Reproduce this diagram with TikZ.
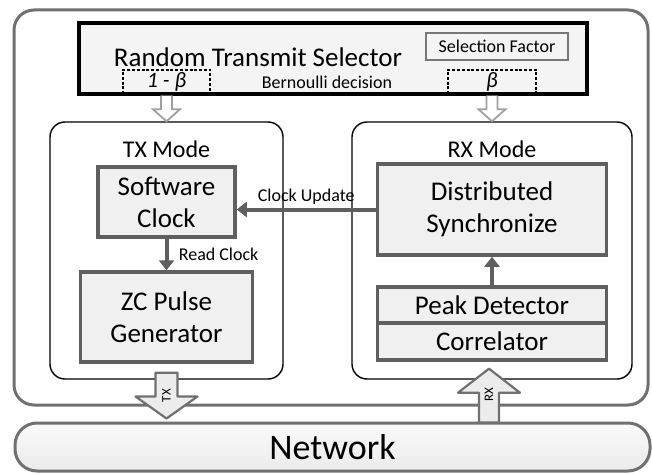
\documentclass[tikz,border=0pt]{standalone}
\usepackage{fontspec}
\setmainfont{Carlito}
\usetikzlibrary{arrows.meta,positioning,calc}
\definecolor{linegray}{RGB}{95,95,95}
\definecolor{framegray}{RGB}{112,112,112}
\definecolor{hollowgray}{RGB}{160,160,160}
\definecolor{boxfill}{RGB}{240,240,240}
\definecolor{selfill}{RGB}{244,244,245}

\begin{document}
\begin{tikzpicture}[
 x=1pt, y=-1pt,
 block/.style={rectangle, draw=linegray, line width=3.5pt, fill=boxfill, align=center, inner sep=0pt, font=\fontsize{27}{32}\selectfont},
 modebox/.style={rectangle, rounded corners=15pt, draw=black, line width=1.4pt, fill=white},
 title/.style={font=\fontsize{24}{28}\selectfont},
 small/.style={font=\fontsize{18}{21}\selectfont},
 prob/.style={inner sep=0pt, minimum width=87pt, minimum height=24pt, font=\fontsize{22}{24}\selectfont\itshape},
 dashbox/.style={line width=2pt, dash pattern=on 3pt off 1.8pt},
 arrow/.style={-{Triangle[length=10pt,width=15pt]}, line width=4pt, color=linegray},
 hollow/.style={draw=hollowgray, line width=1.8pt, fill=white},
 ioarrow/.style={draw=framegray, line width=2.2pt, fill=gray!15, line join=round},
 tag/.style={rotate=90, inner sep=0pt, font=\fontsize{13}{15}\selectfont}
]
\useasboundingbox (0,0) rectangle (652,473);

% Outer frame and network
\node[draw=framegray, line width=3pt, rounded corners=20pt, minimum width=634pt, minimum height=395pt, inner sep=0pt] (frame) at (331,207.5) {};
\node[draw=framegray, line width=3pt, rounded corners=22pt, top color=gray!4, bottom color=gray!16, minimum width=635pt, minimum height=48pt, inner sep=0pt, font=\fontsize{36}{40}\selectfont] (network) at (332.5,447) {Network};

% Selector
\node[draw=black, line width=3.2pt, fill=selfill, minimum width=508pt, minimum height=71pt, inner sep=0pt] (selector) at (333,58.5) {};
\node[font=\fontsize{27}{32}\selectfont] (seltitle) at (258,57) {Random Transmit Selector};
\node[draw=linegray!85, line width=2pt, minimum width=142pt, minimum height=27pt, inner sep=0pt, small] (factor) at (497,46.5) {Selection Factor};
\node[prob] (txprob) at (166.5,82) {1 - β};
\node[prob, minimum width=88pt] (rxprob) at (492,82) {β};
\node[small] (bern) at (327,82) {Bernoulli decision};
\draw[dashbox] (txprob.south west) -- (txprob.north west) -- (txprob.north east) -- (txprob.south east);
\draw[dashbox] (rxprob.south west) -- (rxprob.north west) -- (rxprob.north east) -- (rxprob.south east);

% Modes
\node[modebox, minimum width=233pt, minimum height=257pt] (txmode) at (166.5,250.5) {};
\node[modebox, minimum width=280pt, minimum height=257pt] (rxmode) at (492,250.5) {};
\node[title] (txlabel) at (166.5,149) {TX Mode};
\node[title] (rxlabel) at (492,149) {RX Mode};

% Blocks
\node[block, minimum width=137pt, minimum height=70pt] (swclock) at (166.5,202) {Software\\Clock};
\node[block, minimum width=172pt, minimum height=90pt] (zcgen) at (166.5,317) {ZC Pulse\\Generator};
\node[block, minimum width=229pt, minimum height=91pt] (distsync) at (492,209.5) {Distributed\\Synchronize};
\node[block, minimum width=229pt, minimum height=36pt] (peak) at (492,305) {Peak Detector};
\node[block, minimum width=229pt, minimum height=37pt, below=-3.5pt of peak] (corr) {Correlator};

% Arrows
\draw[arrow] (swclock) -- node[right=7pt, small, text=black] {Read Clock} (zcgen);
\draw[arrow] (distsync.west) -- node[above, small, text=black] {Clock Update} (swclock.east |- distsync.west);
\draw[arrow] (peak) -- (distsync);

% Bernoulli outputs
\draw[hollow] ($(txprob.south)+(-5.5,1.5)$) -- ($(txmode.north)+(-5.5,-12)$) -- ++(-8,0) -- (txmode.north) -- ++(13.5,-12) -- ++(-8,0) -- ($(txprob.south)+(5.5,1.5)$);
\draw[hollow] ($(rxprob.south)+(-5.5,1.5)$) -- ($(rxmode.north)+(-5.5,-12)$) -- ++(-8,0) -- (rxmode.north) -- ++(13.5,-12) -- ++(-8,0) -- ($(rxprob.south)+(5.5,1.5)$);

% TX / RX to network
\coordinate (txtop) at ($(txmode.south)+(0,-7)$);
\coordinate (txtip) at ($(txmode.south |- network.north)+(0,-3)$);
\draw[ioarrow] ($(txtop)+(-11,0)$) -- ($(txtip)+(-11,-22)$) -- ++(-20,0) -- (txtip) -- ++(31,-22) -- ++(-20,0) -- ($(txtop)+(11,0)$) -- cycle;
\node[tag] (txtag) at ($(txtop)+(0,23)$) {TX};

\coordinate (rxtip) at ($(rxmode.south)+(-3,-11)$);
\coordinate (rxbot) at ($(rxtip |- network.north)+(0,1)$);
\draw[ioarrow] ($(rxbot)+(-10,0)$) -- ($(rxtip)+(-10,24)$) -- ++(-21,0) -- (rxtip) -- ++(31,24) -- ++(-21,0) -- ($(rxbot)+(10,0)$) -- cycle;
\node[tag] (rxtag) at ($(rxtip)+(0,26)$) {RX};

\end{tikzpicture}
\end{document}
